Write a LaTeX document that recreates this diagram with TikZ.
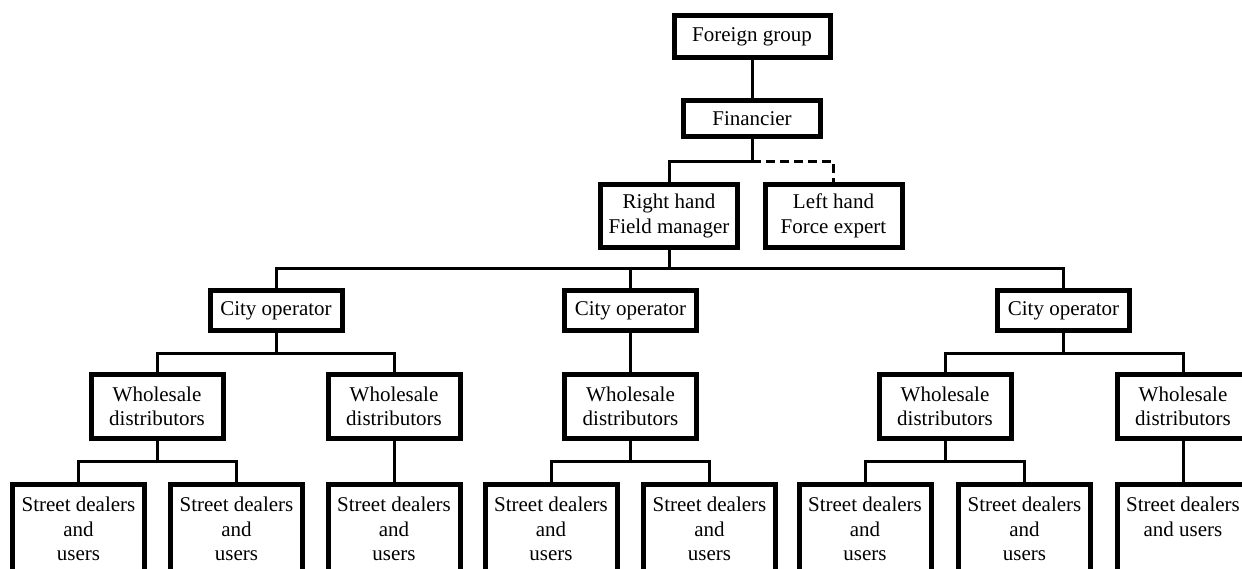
\documentclass[tikz,border=0pt]{standalone}
\usepackage{fontspec}
\setmainfont{Liberation Serif}
\begin{document}
\begin{tikzpicture}[x=1pt,y=-1pt,
  box/.style={draw, rectangle, line width=5pt, inner sep=0pt, align=center,
    font=\fontsize{21}{24.5}\selectfont},
  topbox/.style={box, minimum width=156pt, minimum height=42pt},
  finbox/.style={box, minimum width=137pt, minimum height=36pt},
  handbox/.style={box, minimum width=137pt, minimum height=63pt},
  citybox/.style={box, minimum width=132pt, minimum height=40pt},
  wholebox/.style={box, minimum width=132pt, minimum height=64pt},
  % open-ended boxes: the last text line sits #1 below the top edge
  streetbox/.style={box, anchor=north, minimum width=132pt,
    text height=#1, text depth=100pt},
  link/.style={line width=3pt, line join=miter},
  dashlink/.style={link, dash pattern=on 9pt off 5pt}]
\useasboundingbox (0,0) rectangle (1242,569);
\clip (0,0) rectangle (1242,569);

% bus levels
\coordinate (busA) at (0,162);
\coordinate (busB) at (0,269);
\coordinate (busC) at (0,353);
\coordinate (busD) at (0,461);

% top of the hierarchy
\node[topbox] (fg) at (752,36.5) {Foreign group};
\node[finbox] (fin) at (752,119) {Financier};
\node[handbox] (rh) at (669,216) {Right hand\\Field manager};
\node[handbox] (lh) at (833.5,216) {Left hand\\Force expert};

% city operators
\node[citybox] (c1) at (276,310.5) {City operator};
\node[citybox] (c2) at (630.5,310.5) {City operator};
\node[citybox] (c3) at (1063.5,310.5) {City operator};

% wholesale distributors
\node[wholebox] (w1) at (157,406.5) {Wholesale\\distributors};
\node[wholebox] (w2) at (394,406.5) {Wholesale\\distributors};
\node[wholebox] (w3) at (630.5,406.5) {Wholesale\\distributors};
\node[wholebox] (w4) at (945,406.5) {Wholesale\\distributors};
\node[wholebox] (w5) at (1183,406.5) {Wholesale\\distributors};

% street level
\node[streetbox=76.5pt] (s1) at (78.5,481.5) {Street dealers\\and\\users};
\node[streetbox=76.5pt] (s2) at (236.5,481.5) {Street dealers\\and\\users};
\node[streetbox=76.5pt] (s3) at (394,481.5) {Street dealers\\and\\users};
\node[streetbox=76.5pt] (s4) at (551,481.5) {Street dealers\\and\\users};
\node[streetbox=76.5pt] (s5) at (709.5,481.5) {Street dealers\\and\\users};
\node[streetbox=76.5pt] (s6) at (865,481.5) {Street dealers\\and\\users};
\node[streetbox=76.5pt] (s7) at (1024.5,481.5) {Street dealers\\and\\users};
\node[streetbox=52pt] (s8) at (1183,481.5) {Street dealers\\and users};

% connectors
\draw[link] (fg.south) -- (fin.north);
\draw[link] (fin.south) -- (fin.south |- busA) -| (rh.north);
\draw[dashlink] (fin.south |- busA) -| (lh.north);

\draw[link] (rh.south) -- (rh.south |- busB);
\draw[link] (c1.north) -- (c1.north |- busB) -- (c3.north |- busB) -- (c3.north);
\draw[link] (c2.north) -- (c2.north |- busB);

\draw[link] (c1.south) -- (c1.south |- busC);
\draw[link] (w1.north) -- (w1.north |- busC) -- (w2.north |- busC) -- (w2.north);
\draw[link] (c2.south) -- (w3.north);
\draw[link] (c3.south) -- (c3.south |- busC);
\draw[link] (w4.north) -- (w4.north |- busC) -- (w5.north |- busC) -- (w5.north);

\draw[link] (w1.south) -- (w1.south |- busD);
\draw[link] (s1.north) -- (s1.north |- busD) -- (s2.north |- busD) -- (s2.north);
\draw[link] (w2.south) -- (s3.north);
\draw[link] (w3.south) -- (w3.south |- busD);
\draw[link] (s4.north) -- (s4.north |- busD) -- (s5.north |- busD) -- (s5.north);
\draw[link] (w4.south) -- (w4.south |- busD);
\draw[link] (s6.north) -- (s6.north |- busD) -- (s7.north |- busD) -- (s7.north);
\draw[link] (w5.south) -- (s8.north);
\end{tikzpicture}
\end{document}
